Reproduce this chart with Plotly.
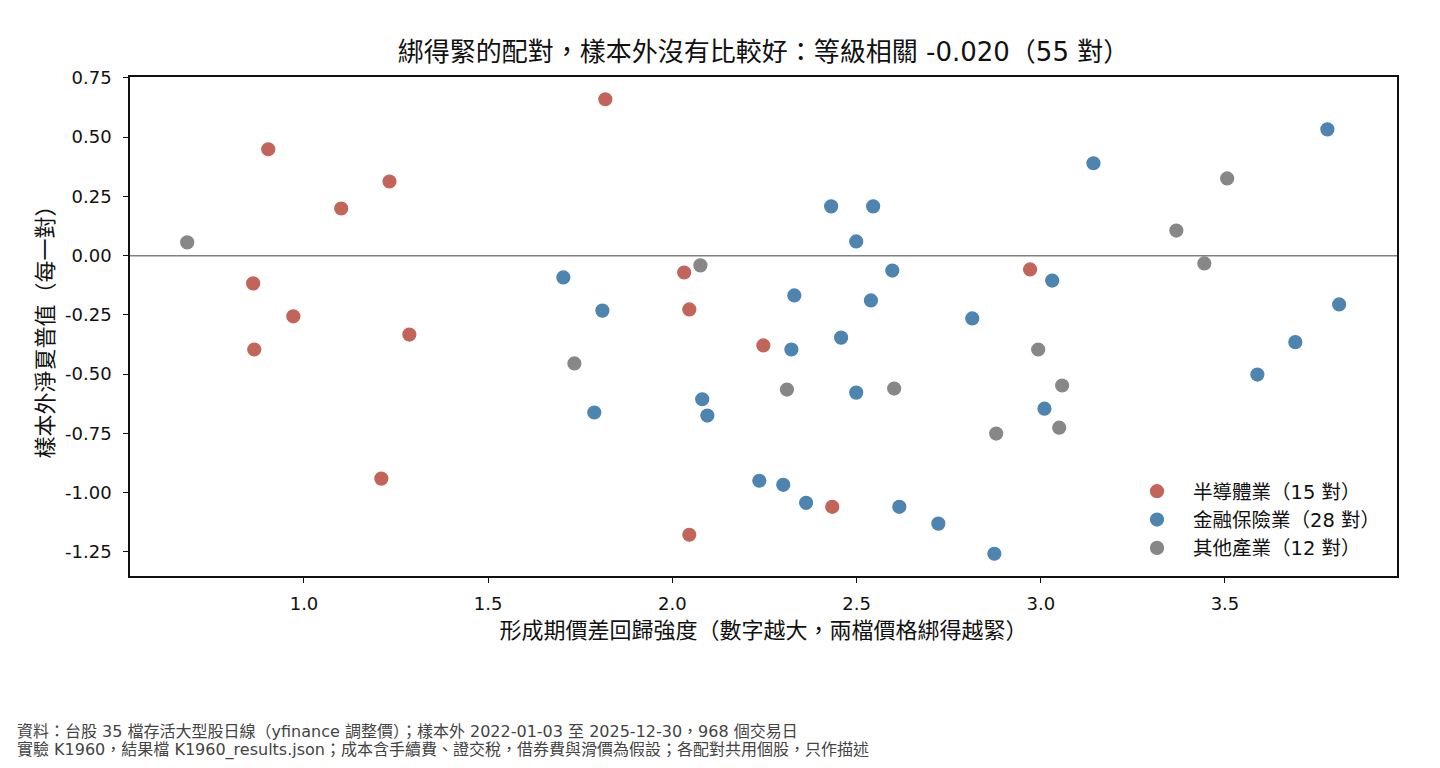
import plotly.graph_objects as go

# ---- data ----
semi_x = [0.903, 0.862, 1.101, 1.232, 0.971, 0.865, 1.286, 1.210, 1.818, 2.032, 2.046, 2.247, 2.434, 2.046, 2.971]
semi_y = [0.449, -0.117, 0.199, 0.313, -0.256, -0.396, -0.333, -0.941, 0.660, -0.071, -0.227, -0.379, -1.060, -1.178, -0.058]

fin_x = [1.704, 1.810, 1.788, 2.431, 2.545, 2.499, 2.597, 2.331, 2.539, 2.814, 2.458, 2.323, 2.499, 2.081,
         2.095, 2.236, 2.301, 2.363, 2.616, 2.722, 2.874, 3.143, 3.778, 3.031, 3.810, 3.691, 3.588, 3.010]
fin_y = [-0.092, -0.232, -0.662, 0.208, 0.208, 0.060, -0.063, -0.168, -0.189, -0.265, -0.346, -0.396, -0.578, -0.606,
         -0.675, -0.950, -0.967, -1.043, -1.060, -1.131, -1.258, 0.390, 0.533, -0.105, -0.206, -0.365, -0.502, -0.646]

oth_x = [0.683, 1.734, 2.076, 2.311, 2.602, 2.879, 3.506, 3.368, 3.444, 2.993, 3.058, 3.050]
oth_y = [0.056, -0.455, -0.041, -0.565, -0.561, -0.751, 0.326, 0.106, -0.033, -0.396, -0.548, -0.726]

series_names = ["半導體業（15 對）", "金融保險業（28 對）", "其他產業（12 對）"]
series_colors = ["#b84a3e", "#2f6fa3", "#737373"]

x_tickvals = [1.0, 1.5, 2.0, 2.5, 3.0, 3.5]
x_ticktext = ["1.0", "1.5", "2.0", "2.5", "3.0", "3.5"]
y_tickvals = [0.75, 0.50, 0.25, 0.00, -0.25, -0.50, -0.75, -1.00, -1.25]
y_ticktext = ["0.75", "0.50", "0.25", "0.00", "-0.25", "-0.50", "-0.75", "-1.00", "-1.25"]

title_text = "綁得緊的配對，樣本外沒有比較好：等級相關 -0.020（55 對）"
x_title = "形成期價差回歸強度（數字越大，兩檔價格綁得越緊）"
y_title = "樣本外淨夏普值（每一對）"
footer1 = "資料：台股 35 檔存活大型股日線（yfinance 調整價）；樣本外 2022-01-03 至 2025-12-30，968 個交易日"
footer2 = "實驗 K1960，結果檔 K1960_results.json；成本含手續費、證交稅，借券費與滑價為假設；各配對共用個股，只作描述"

FONT = "DejaVu Sans, Noto Sans CJK TC, sans-serif"

fig = go.Figure()
for i, (xs, ys) in enumerate([(semi_x, semi_y), (fin_x, fin_y), (oth_x, oth_y)]):
    fig.add_trace(go.Scatter(
        x=xs, y=ys, mode="markers", name=series_names[i],
        legendgroup=str(i),
        marker=dict(size=13, color=series_colors[i], opacity=0.85,
                    line=dict(width=1.2, color=series_colors[i])),
    ))

fig.add_hline(y=0, line=dict(color="#808080", width=1.5), layer="below")

W, H = 1440, 768
L, R, T, B = 130, 43, 77, 192
ph = H - T - B
pw = W - L - R

fig.update_layout(
    width=W, height=H,
    margin=dict(l=L, r=R, t=T, b=B, autoexpand=False),
    paper_bgcolor="white", plot_bgcolor="white",
    font=dict(family=FONT, size=18, color="#111111"),
    title=dict(text=title_text, x=0.5, xref="paper", y=1 - 52 / H, yref="container",
               xanchor="center", yanchor="middle", font=dict(size=26, color="#111111")),
    showlegend=True,
    legend=dict(x=(1121 - L) / pw, y=(576 - 568) / ph, xanchor="left", yanchor="bottom",
                bgcolor="rgba(0,0,0,0)", borderwidth=0, font=dict(size=19.5),
                itemwidth=62, tracegroupgap=0),
    xaxis=dict(range=[0.5277, 3.967], tickvals=x_tickvals, ticktext=x_ticktext,
               showgrid=False, zeroline=False, showline=True, mirror=True,
               linecolor="#111111", linewidth=1.5, ticks="outside", ticklen=5,
               tickwidth=1.2, tickcolor="#111111", tickfont=dict(size=18),
               ticklabelstandoff=6,
               title=dict(text=x_title, font=dict(size=22), standoff=9)),
    yaxis=dict(range=[-1.352, 0.754], tickvals=y_tickvals, ticktext=y_ticktext,
               showgrid=False, zeroline=False, showline=True, mirror=True,
               linecolor="#111111", linewidth=1.5, ticks="outside", ticklen=5,
               tickwidth=1.2, tickcolor="#111111", tickfont=dict(size=18),
               ticklabelstandoff=8,
               title=dict(text=y_title, font=dict(size=22), standoff=5)),
)

fig.add_annotation(text=footer1, xref="paper", yref="paper", x=(15 - L) / pw, y=(576 - 731) / ph,
                   xanchor="left", yanchor="middle", showarrow=False, align="left",
                   font=dict(size=16, color="#444444"))
fig.add_annotation(text=footer2, xref="paper", yref="paper", x=(15 - L) / pw, y=(576 - 750) / ph,
                   xanchor="left", yanchor="middle", showarrow=False, align="left",
                   font=dict(size=16, color="#444444"))

fig.write_html("out.html")
